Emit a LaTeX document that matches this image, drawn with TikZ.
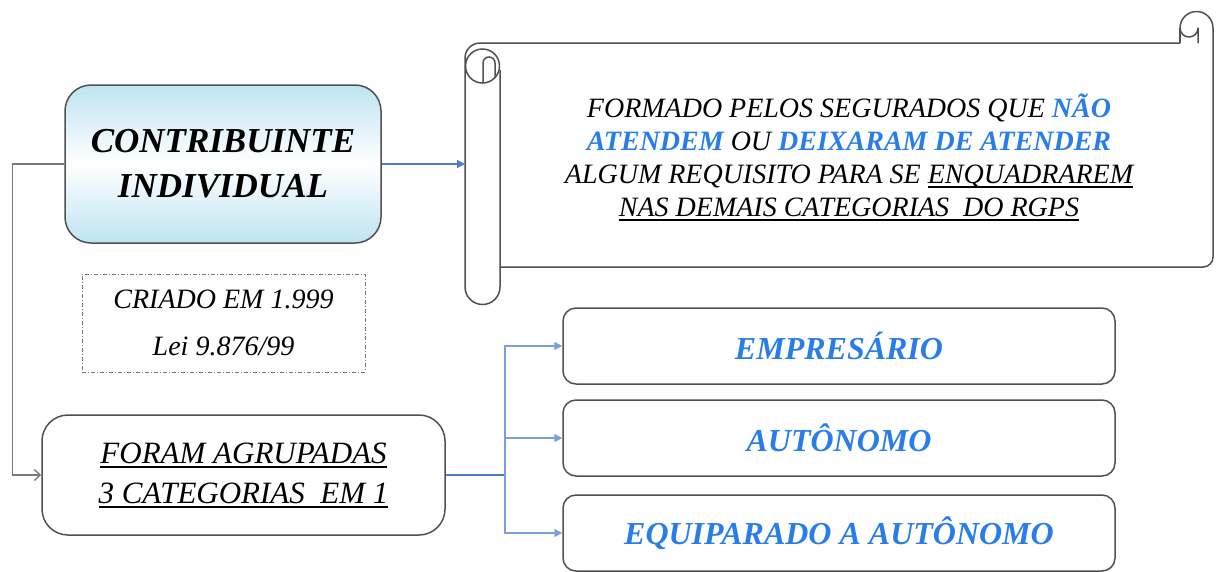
\documentclass[tikz,border=0pt]{standalone}
\usepackage{fontspec}
\setmainfont{Liberation Serif}
\usetikzlibrary{arrows.meta}
\definecolor{txtblue}{RGB}{40,125,235}
\definecolor{lnblue}{RGB}{120,160,220}
\definecolor{lnblued}{RGB}{75,125,200}
\definecolor{bordergray}{RGB}{80,80,80}
\definecolor{conngray}{RGB}{120,120,120}
\definecolor{boxblue}{RGB}{190,228,242}
\newcommand\ulx[1]{\setbox0\hbox{#1}\rlap{\rule[-4.5pt]{\wd0}{1.6pt}}\box0}
\begin{document}
\begin{tikzpicture}[x=1pt,y=-1pt,
  boxr/.style={draw=bordergray,line width=1.5pt,rounded corners=#1,inner sep=0pt,align=center},
  catbox/.style={boxr=13pt,minimum width=552pt,minimum height=76pt,
     font=\fontsize{32}{36}\selectfont\bfseries\itshape,text=txtblue},
  blueln/.style={draw=lnblue,line width=1.5pt},
  bluearr/.style={blueln,-{Triangle[length=8pt,width=8pt]}},
  grayarr/.style={draw=conngray,line width=1.5pt,-{Straight Barb[length=6pt,width=11pt,line width=1.3pt]}},
  scrollln/.style={draw=bordergray,line width=1.5pt}
]
\useasboundingbox (0,0) rectangle (1217,571);

% title box
\node[boxr=26pt,minimum width=316pt,minimum height=158pt,
  top color=boxblue,bottom color=boxblue,middle color=white,
  font=\fontsize{35}{45}\selectfont\bfseries\itshape] (title) at (223,164)
  {CONTRIBUINTE\\INDIVIDUAL};

% scroll
\draw[scrollln,line join=round]
  (1180,43) -- (480,43) arc[start angle=270,end angle=180,radius=15]
  -- (465,287) arc[start angle=180,end angle=0,radius=17.5]
  -- (500,70);
\draw[scrollln] (482.5,66) circle[radius=17];
\draw[scrollln] (483,83) -- (483,63) arc[start angle=180,end angle=360,radius=6] -- (495,77.5);
\draw[scrollln,line join=round]
  (500,267) -- (1203,267) arc[start angle=90,end angle=0,radius=10]
  -- (1213,28) arc[start angle=360,end angle=180,radius=16.5]
  arc[start angle=180,end angle=0,radius=9] -- (1198,43);
\draw[scrollln] (1180,28) -- (1180,43);
\coordinate (scrollL) at (465,164);
\node[font=\fontsize{28}{33}\selectfont\itshape,align=center,inner sep=0pt] (scrolltxt) at (849,157)
  {FORMADO PELOS SEGURADOS QUE \textcolor{txtblue}{\bfseries NÃO}\\
   \textcolor{txtblue}{\bfseries ATENDEM} OU \textcolor{txtblue}{\bfseries DEIXARAM DE ATENDER}\\
   ALGUM REQUISITO PARA SE \ulx{ENQUADRAREM}\\
   \ulx{NAS DEMAIS CATEGORIAS\ \ DO RGPS}};

% criado box
\node[draw=conngray,line width=1pt,dash pattern=on 4pt off 2pt on 1pt off 2pt,
  minimum width=283pt,minimum height=98pt,inner sep=0pt,align=center,
  font=\fontsize{28}{47}\selectfont\itshape] (criado) at (223.5,323)
  {CRIADO EM 1.999\\Lei 9.876/99};

% foram box
\node[boxr=26pt,minimum width=403pt,minimum height=120pt,
  font=\fontsize{31}{40}\selectfont\itshape] (foram) at (243.5,475)
  {\ulx{FORAM AGRUPADAS}\\\ulx{3 CATEGORIAS\ \ EM 1}};

% category boxes
\node[catbox] (emp) at (839,346) {EMPRESÁRIO};
\node[catbox] (aut) at (839,438) {AUTÔNOMO};
\node[catbox] (equ) at (839,533) {EQUIPARADO A AUTÔNOMO};

% connectors
\draw[grayarr] (title.west) -- ++(-52,0) |- (foram.west);
\draw[draw=lnblued,line width=1.3pt,-{Triangle[length=8pt,width=8pt]}] (title.east) -- (scrollL);
\coordinate (jn) at (505,475);
\draw[draw=lnblued,line width=2pt] (foram.east) -- (jn);
\draw[bluearr] (jn) |- (emp.west);
\draw[bluearr] (jn) -- (aut.west -| jn) -- (aut.west);
\draw[bluearr] (jn) |- (equ.west);
\end{tikzpicture}
\end{document}
